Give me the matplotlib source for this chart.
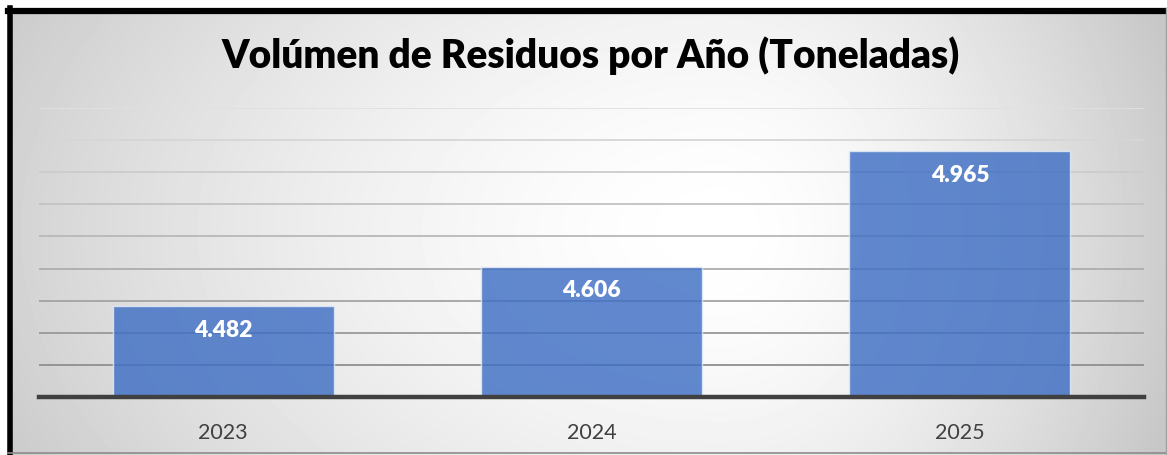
import numpy as np
import matplotlib.pyplot as plt
from matplotlib.lines import Line2D

years = ["2023", "2024", "2025"]
toneladas = [4.482, 4.606, 4.965]
labels = ["4.482", "4.606", "4.965"]

FONT = "Lato"

fig = plt.figure(figsize=(11.67, 4.55), dpi=100)

# radial gradient background (lighter centre, grey edges)
bg = fig.add_axes([0, 0, 1, 1], zorder=-10)
yy, xx = np.mgrid[0:455, 0:1167]
cx, cy = 720, 230
sx = np.where(xx < cx, 780.0, 450.0)
r = np.hypot((xx - cx) / sx, (yy - cy) / 500.0)
shade = np.clip(1.0 - 0.2 * r ** 1.6, 0.78, 1.0)
bg.imshow(shade, cmap="gray", vmin=0, vmax=1, aspect="auto",
          extent=[0, 1, 0, 1], origin="upper")
bg.set_xlim(0, 1)
bg.set_ylim(0, 1)
bg.axis("off")

ax = fig.add_axes([39 / 1167, 58 / 455, 1105 / 1167, 289 / 455])
ax.patch.set_alpha(0)
x = np.arange(len(years))
ax.set_xlim(-0.5, 2.5)
ax.set_ylim(4.2, 5.1)

# gridlines fade from light (top) to darker (bottom)
levels = np.arange(4.3, 5.11, 0.1)
for i, lv in enumerate(levels):
    g = 0.56 + 0.32 * i / (len(levels) - 1)
    ax.axhline(lv, color=(g, g, g), lw=1.3, zorder=1)

ax.bar(x, toneladas, width=0.6, bottom=0, color="#3f6fc4", alpha=0.82,
       edgecolor="#e4ebf7", linewidth=1, zorder=2)
ax.axhline(4.2, color="#404040", lw=3.2, zorder=3, clip_on=False)

for xi, v, t in zip(x, toneladas, labels):
    ax.text(xi, v - 0.043, t, ha="center", va="top", color="white",
            fontsize=16.5, fontweight="heavy", family=FONT, zorder=4)

ax.set_xticks(x)
ax.set_xticklabels(years, fontsize=15.5, color="#404040", family=FONT)
ax.tick_params(axis="x", length=0, pad=19)
ax.set_yticks([])
for s in ax.spines.values():
    s.set_visible(False)

fig.text(0.506, 0.877, "Volúmen de Residuos por Año (Toneladas)",
         ha="center", va="center", fontsize=28, fontweight="heavy",
         family=FONT, color="black")

# frame: thick black left/top, thin gray right/bottom
fig.add_artist(Line2D([9.5 / 1167, 9.5 / 1167], [0, 1 - 8 / 455],
                      color="black", lw=4, transform=fig.transFigure))
fig.add_artist(Line2D([7.5 / 1167, 1], [1 - 11 / 455, 1 - 11 / 455],
                      color="black", lw=4.5, transform=fig.transFigure))
fig.add_artist(Line2D([7.5 / 1167, 1], [2 / 455, 2 / 455],
                      color="#8c8c8c", lw=1.2, transform=fig.transFigure))
fig.add_artist(Line2D([1165.5 / 1167, 1165.5 / 1167], [0, 1 - 8 / 455],
                      color="#a0a0a0", lw=1, transform=fig.transFigure))
# white strip outside the frame
fig.add_artist(plt.Rectangle((0, 1 - 7 / 455), 1, 7 / 455, color="white",
                             transform=fig.transFigure, zorder=-5))
fig.add_artist(plt.Rectangle((0, 0), 7 / 1167, 1, color="white",
                             transform=fig.transFigure, zorder=-5))

fig.savefig("out.png", dpi=100)
